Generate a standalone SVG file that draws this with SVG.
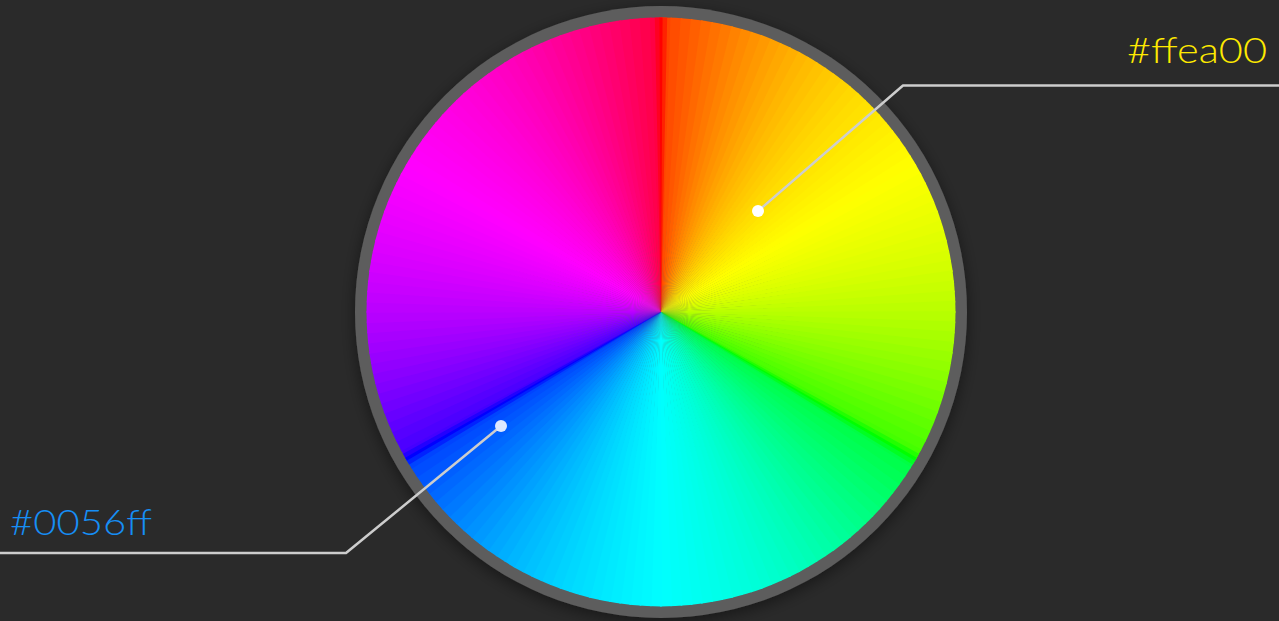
<svg xmlns="http://www.w3.org/2000/svg" width="1279" height="621" viewBox="0 0 1279 621">
<defs>
<style>
.lbl{font-family:"Lato","Open Sans","Liberation Sans",sans-serif;font-weight:300;font-size:36px}
.conn{fill:none;stroke:#cdcdcd;stroke-width:2.5;stroke-linejoin:round}
</style>
<filter id="sh" x="-20%" y="-20%" width="140%" height="140%"><feDropShadow dx="0" dy="4" stdDeviation="8" flood-color="#000" flood-opacity="0.45"/></filter>
<clipPath id="cc"><circle r="294.5"/></clipPath>
<path id="w" d="M0 0L-6.1 -300L6.1 -300Z"/>
<path id="t" d="M0 0L-2.9 -300L2.9 -300Z"/>
<path id="n" d="M0 0L-1.6 -300L1.6 -300Z"/>
</defs>
<rect width="1279" height="621" fill="#2a2a2a"/>
<g id="wheel" transform="translate(661 312)">
<circle r="306" fill="#5d5d5d" filter="url(#sh)"/>
<g clip-path="url(#cc)">
<use href="#w" transform="rotate(1)" fill="#ff4400"/><use href="#w" transform="rotate(3)" fill="#ff4d00"/><use href="#w" transform="rotate(5)" fill="#ff5600"/><use href="#w" transform="rotate(7)" fill="#ff5f00"/><use href="#w" transform="rotate(9)" fill="#ff6800"/><use href="#w" transform="rotate(11)" fill="#ff7100"/><use href="#w" transform="rotate(13)" fill="#ff7900"/><use href="#w" transform="rotate(15)" fill="#ff8200"/><use href="#w" transform="rotate(17)" fill="#ff8a00"/><use href="#w" transform="rotate(19)" fill="#ff9200"/>
<use href="#w" transform="rotate(21)" fill="#ff9900"/><use href="#w" transform="rotate(23)" fill="#ffa100"/><use href="#w" transform="rotate(25)" fill="#ffa800"/><use href="#w" transform="rotate(27)" fill="#ffaf00"/><use href="#w" transform="rotate(29)" fill="#ffb600"/><use href="#w" transform="rotate(31)" fill="#ffbc00"/><use href="#w" transform="rotate(33)" fill="#ffc200"/><use href="#w" transform="rotate(35)" fill="#ffc800"/><use href="#w" transform="rotate(37)" fill="#ffcd00"/><use href="#w" transform="rotate(39)" fill="#ffd300"/>
<use href="#w" transform="rotate(41)" fill="#ffd800"/><use href="#w" transform="rotate(43)" fill="#ffdd00"/><use href="#w" transform="rotate(45)" fill="#ffe100"/><use href="#w" transform="rotate(47)" fill="#ffe600"/><use href="#w" transform="rotate(49)" fill="#ffea00"/><use href="#w" transform="rotate(51)" fill="#ffee00"/><use href="#w" transform="rotate(53)" fill="#fff200"/><use href="#w" transform="rotate(55)" fill="#fff600"/><use href="#w" transform="rotate(57)" fill="#fff900"/><use href="#w" transform="rotate(59)" fill="#fffd00"/>
<use href="#w" transform="rotate(61)" fill="#fdff00"/><use href="#w" transform="rotate(63)" fill="#f9ff00"/><use href="#w" transform="rotate(65)" fill="#f6ff00"/><use href="#w" transform="rotate(67)" fill="#f2ff00"/><use href="#w" transform="rotate(69)" fill="#eeff00"/><use href="#w" transform="rotate(71)" fill="#eaff00"/><use href="#w" transform="rotate(73)" fill="#e6ff00"/><use href="#w" transform="rotate(75)" fill="#e1ff00"/><use href="#w" transform="rotate(77)" fill="#ddff00"/><use href="#w" transform="rotate(79)" fill="#d8ff00"/>
<use href="#w" transform="rotate(81)" fill="#d3ff00"/><use href="#w" transform="rotate(83)" fill="#cdff00"/><use href="#w" transform="rotate(85)" fill="#c8ff00"/><use href="#w" transform="rotate(87)" fill="#c2ff00"/><use href="#w" transform="rotate(89)" fill="#bcff00"/><use href="#w" transform="rotate(91)" fill="#b6ff00"/><use href="#w" transform="rotate(93)" fill="#afff00"/><use href="#w" transform="rotate(95)" fill="#a8ff00"/><use href="#w" transform="rotate(97)" fill="#a1ff00"/><use href="#w" transform="rotate(99)" fill="#99ff00"/>
<use href="#w" transform="rotate(101)" fill="#92ff00"/><use href="#w" transform="rotate(103)" fill="#8aff00"/><use href="#w" transform="rotate(105)" fill="#82ff00"/><use href="#w" transform="rotate(107)" fill="#79ff00"/><use href="#w" transform="rotate(109)" fill="#71ff00"/><use href="#w" transform="rotate(111)" fill="#68ff00"/><use href="#w" transform="rotate(113)" fill="#5fff00"/><use href="#w" transform="rotate(115)" fill="#56ff00"/><use href="#w" transform="rotate(117)" fill="#4dff00"/><use href="#w" transform="rotate(119)" fill="#44ff00"/>
<use href="#w" transform="rotate(121)" fill="#00ff44"/><use href="#w" transform="rotate(123)" fill="#00ff4d"/><use href="#w" transform="rotate(125)" fill="#00ff56"/><use href="#w" transform="rotate(127)" fill="#00ff5f"/><use href="#w" transform="rotate(129)" fill="#00ff68"/><use href="#w" transform="rotate(131)" fill="#00ff71"/><use href="#w" transform="rotate(133)" fill="#00ff79"/><use href="#w" transform="rotate(135)" fill="#00ff82"/><use href="#w" transform="rotate(137)" fill="#00ff8a"/><use href="#w" transform="rotate(139)" fill="#00ff92"/>
<use href="#w" transform="rotate(141)" fill="#00ff99"/><use href="#w" transform="rotate(143)" fill="#00ffa1"/><use href="#w" transform="rotate(145)" fill="#00ffa8"/><use href="#w" transform="rotate(147)" fill="#00ffaf"/><use href="#w" transform="rotate(149)" fill="#00ffb6"/><use href="#w" transform="rotate(151)" fill="#00ffbc"/><use href="#w" transform="rotate(153)" fill="#00ffc2"/><use href="#w" transform="rotate(155)" fill="#00ffc8"/><use href="#w" transform="rotate(157)" fill="#00ffcd"/><use href="#w" transform="rotate(159)" fill="#00ffd3"/>
<use href="#w" transform="rotate(161)" fill="#00ffd8"/><use href="#w" transform="rotate(163)" fill="#00ffdd"/><use href="#w" transform="rotate(165)" fill="#00ffe1"/><use href="#w" transform="rotate(167)" fill="#00ffe6"/><use href="#w" transform="rotate(169)" fill="#00ffea"/><use href="#w" transform="rotate(171)" fill="#00ffee"/><use href="#w" transform="rotate(173)" fill="#00fff2"/><use href="#w" transform="rotate(175)" fill="#00fff6"/><use href="#w" transform="rotate(177)" fill="#00fff9"/><use href="#w" transform="rotate(179)" fill="#00fffd"/>
<use href="#w" transform="rotate(181)" fill="#00fdff"/><use href="#w" transform="rotate(183)" fill="#00f9ff"/><use href="#w" transform="rotate(185)" fill="#00f6ff"/><use href="#w" transform="rotate(187)" fill="#00f2ff"/><use href="#w" transform="rotate(189)" fill="#00eeff"/><use href="#w" transform="rotate(191)" fill="#00eaff"/><use href="#w" transform="rotate(193)" fill="#00e6ff"/><use href="#w" transform="rotate(195)" fill="#00e1ff"/><use href="#w" transform="rotate(197)" fill="#00ddff"/><use href="#w" transform="rotate(199)" fill="#00d8ff"/>
<use href="#w" transform="rotate(201)" fill="#00d3ff"/><use href="#w" transform="rotate(203)" fill="#00cdff"/><use href="#w" transform="rotate(205)" fill="#00c8ff"/><use href="#w" transform="rotate(207)" fill="#00c2ff"/><use href="#w" transform="rotate(209)" fill="#00bcff"/><use href="#w" transform="rotate(211)" fill="#00b6ff"/><use href="#w" transform="rotate(213)" fill="#00afff"/><use href="#w" transform="rotate(215)" fill="#00a8ff"/><use href="#w" transform="rotate(217)" fill="#00a1ff"/><use href="#w" transform="rotate(219)" fill="#0099ff"/>
<use href="#w" transform="rotate(221)" fill="#0092ff"/><use href="#w" transform="rotate(223)" fill="#008aff"/><use href="#w" transform="rotate(225)" fill="#0082ff"/><use href="#w" transform="rotate(227)" fill="#0079ff"/><use href="#w" transform="rotate(229)" fill="#0071ff"/><use href="#w" transform="rotate(231)" fill="#0068ff"/><use href="#w" transform="rotate(233)" fill="#005fff"/><use href="#w" transform="rotate(235)" fill="#0056ff"/><use href="#w" transform="rotate(237)" fill="#004dff"/><use href="#w" transform="rotate(239)" fill="#0044ff"/>
<use href="#w" transform="rotate(241)" fill="#4400ff"/><use href="#w" transform="rotate(243)" fill="#4d00ff"/><use href="#w" transform="rotate(245)" fill="#5600ff"/><use href="#w" transform="rotate(247)" fill="#5f00ff"/><use href="#w" transform="rotate(249)" fill="#6800ff"/><use href="#w" transform="rotate(251)" fill="#7100ff"/><use href="#w" transform="rotate(253)" fill="#7900ff"/><use href="#w" transform="rotate(255)" fill="#8200ff"/><use href="#w" transform="rotate(257)" fill="#8a00ff"/><use href="#w" transform="rotate(259)" fill="#9200ff"/>
<use href="#w" transform="rotate(261)" fill="#9900ff"/><use href="#w" transform="rotate(263)" fill="#a100ff"/><use href="#w" transform="rotate(265)" fill="#a800ff"/><use href="#w" transform="rotate(267)" fill="#af00ff"/><use href="#w" transform="rotate(269)" fill="#b600ff"/><use href="#w" transform="rotate(271)" fill="#bc00ff"/><use href="#w" transform="rotate(273)" fill="#c200ff"/><use href="#w" transform="rotate(275)" fill="#c800ff"/><use href="#w" transform="rotate(277)" fill="#cd00ff"/><use href="#w" transform="rotate(279)" fill="#d300ff"/>
<use href="#w" transform="rotate(281)" fill="#d800ff"/><use href="#w" transform="rotate(283)" fill="#dd00ff"/><use href="#w" transform="rotate(285)" fill="#e100ff"/><use href="#w" transform="rotate(287)" fill="#e600ff"/><use href="#w" transform="rotate(289)" fill="#ea00ff"/><use href="#w" transform="rotate(291)" fill="#ee00ff"/><use href="#w" transform="rotate(293)" fill="#f200ff"/><use href="#w" transform="rotate(295)" fill="#f600ff"/><use href="#w" transform="rotate(297)" fill="#f900ff"/><use href="#w" transform="rotate(299)" fill="#fd00ff"/>
<use href="#w" transform="rotate(301)" fill="#ff00fd"/><use href="#w" transform="rotate(303)" fill="#ff00f9"/><use href="#w" transform="rotate(305)" fill="#ff00f6"/><use href="#w" transform="rotate(307)" fill="#ff00f2"/><use href="#w" transform="rotate(309)" fill="#ff00ee"/><use href="#w" transform="rotate(311)" fill="#ff00ea"/><use href="#w" transform="rotate(313)" fill="#ff00e6"/><use href="#w" transform="rotate(315)" fill="#ff00e1"/><use href="#w" transform="rotate(317)" fill="#ff00dd"/><use href="#w" transform="rotate(319)" fill="#ff00d8"/>
<use href="#w" transform="rotate(321)" fill="#ff00d3"/><use href="#w" transform="rotate(323)" fill="#ff00cd"/><use href="#w" transform="rotate(325)" fill="#ff00c8"/><use href="#w" transform="rotate(327)" fill="#ff00c2"/><use href="#w" transform="rotate(329)" fill="#ff00bc"/><use href="#w" transform="rotate(331)" fill="#ff00b6"/><use href="#w" transform="rotate(333)" fill="#ff00af"/><use href="#w" transform="rotate(335)" fill="#ff00a8"/><use href="#w" transform="rotate(337)" fill="#ff00a1"/><use href="#w" transform="rotate(339)" fill="#ff0099"/>
<use href="#w" transform="rotate(341)" fill="#ff0092"/><use href="#w" transform="rotate(343)" fill="#ff008a"/><use href="#w" transform="rotate(345)" fill="#ff0082"/><use href="#w" transform="rotate(347)" fill="#ff0079"/><use href="#w" transform="rotate(349)" fill="#ff0071"/><use href="#w" transform="rotate(351)" fill="#ff0068"/><use href="#w" transform="rotate(353)" fill="#ff005f"/><use href="#w" transform="rotate(355)" fill="#ff0056"/><use href="#w" transform="rotate(357)" fill="#ff004d"/><use href="#w" transform="rotate(359)" fill="#ff0044"/>
<use href="#t" transform="rotate(-0.65)" fill="#ff0022"/><use href="#t" transform="rotate(0.65)" fill="#ff2200"/>
<use href="#t" transform="rotate(119.35)" fill="#22ff00"/><use href="#t" transform="rotate(120.65)" fill="#00ff22"/>
<use href="#t" transform="rotate(239.35)" fill="#0022ff"/><use href="#t" transform="rotate(240.65)" fill="#2200ff"/>
<use href="#n" transform="rotate(0)" fill="#ff0000"/><use href="#n" transform="rotate(120)" fill="#00ff00"/><use href="#n" transform="rotate(240)" fill="#0000ff"/>
</g>
</g>
<g id="connectors">
<polyline class="conn" points="1279,85.5 903,85.5 758,211"/>
<polyline class="conn" points="0,553 346,553 501,426"/>
</g>
<g id="label-ffea00">
<circle cx="758" cy="211" r="6" fill="#ffffff"/>
<text class="lbl" x="1127" y="63" fill="#ffea00" textLength="140" lengthAdjust="spacingAndGlyphs">#ffea00</text>
</g>
<g id="label-0056ff">
<circle cx="501" cy="426" r="6" fill="#dde8ff"/>
<text class="lbl" x="10" y="535" fill="#168ef5" textLength="142" lengthAdjust="spacingAndGlyphs">#0056ff</text>
</g>
</svg>
